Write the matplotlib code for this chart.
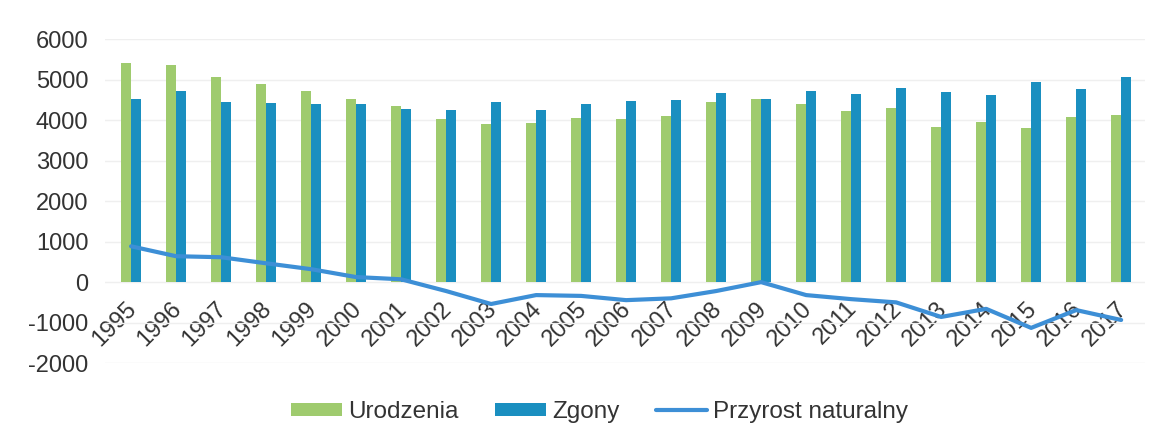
import matplotlib
matplotlib.use('Agg')
import matplotlib.pyplot as plt
import matplotlib.transforms as mtransforms
import numpy as np

years = [str(y) for y in range(1995, 2018)]
urodzenia = [5410, 5360, 5065, 4890, 4720, 4525, 4350, 4030, 3910, 3930, 4060, 4030,
             4100, 4450, 4525, 4400, 4230, 4300, 3840, 3960, 3810, 4080, 4130]
zgony = [4525, 4720, 4450, 4425, 4400, 4400, 4280, 4250, 4450, 4250, 4400, 4475,
         4500, 4670, 4525, 4720, 4650, 4800, 4700, 4620, 4940, 4770, 5065]
przyrost = [885, 640, 615, 465, 320, 125, 70, -220, -540, -320, -340, -445,
            -400, -220, 0, -320, -420, -500, -860, -660, -1130, -690, -935]

plt.rcParams['font.family'] = ['Liberation Sans', 'DejaVu Sans']
plt.rcParams['axes.unicode_minus'] = False

fig = plt.figure(figsize=(11.51, 4.45), dpi=100)
ax = fig.add_axes([0.0912, 0.184, 0.9036, 0.728])

x = np.arange(len(years))
w = 0.22
b1 = ax.bar(x - w / 2, urodzenia, w, color='#9fcb6e', label='Urodzenia', zorder=2)
b2 = ax.bar(x + w / 2, zgony, w, color='#1a8fc0', label='Zgony', zorder=2)
l1, = ax.plot(x, przyrost, color='#3d8fd6', lw=3, label='Przyrost naturalny', zorder=3,
              solid_capstyle='round')

ax.set_ylim(-2000, 6000)
ax.set_xlim(-0.58, len(years) - 0.47)
ax.set_yticks(range(-2000, 6001, 1000))
ax.grid(axis='y', color='#efefef', lw=1, zorder=0)
for s in ['top', 'right', 'left']:
  ax.spines[s].set_visible(False)
ax.spines['bottom'].set_position(('data', 0))
ax.spines['bottom'].set_visible(False)

ax.set_xticks(x)
ax.set_xticklabels(years, rotation=45, ha='right', rotation_mode='anchor')
ax.tick_params(axis='both', length=0, labelsize=17, colors='#333333')
ax.tick_params(axis='x', pad=11)
ax.tick_params(axis='y', pad=12)
# nudge the rotated year labels a bit to the left
shift = mtransforms.ScaledTranslation(-4 / 72, 0, fig.dpi_scale_trans)
for lab in ax.get_xticklabels():
  lab.set_transform(lab.get_transform() + shift)

fig.legend(handles=[b1, b2, l1], loc='center', bbox_to_anchor=(0.521, 0.074), ncol=3,
           frameon=False, fontsize=17.5, handlelength=2.1, handleheight=0.5,
           columnspacing=1.5, handletextpad=0.25, labelcolor='#333333')

fig.savefig('out.png', dpi=100)
